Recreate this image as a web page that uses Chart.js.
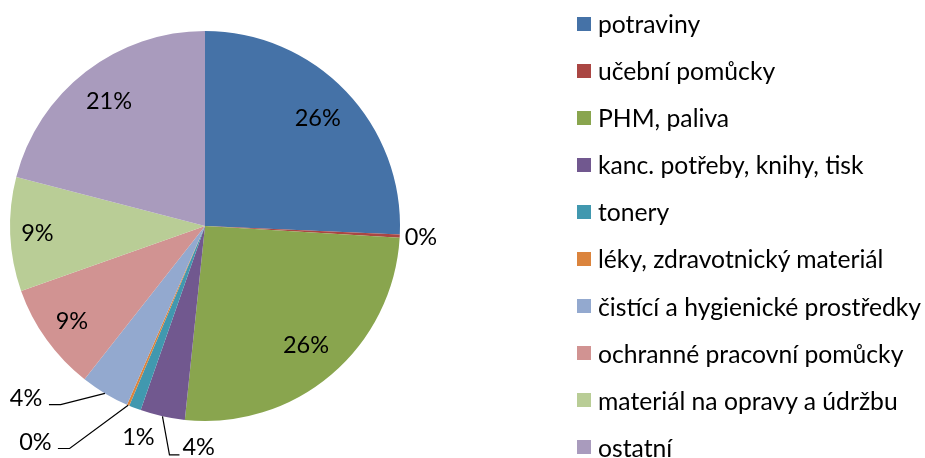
<!DOCTYPE html>
<html>
<head>
<meta charset="utf-8">
<script src="https://cdn.jsdelivr.net/npm/chart.js@4"></script>
<style>
    body { margin: 0; background: #fff; }
    #wrap { position: relative; width: 925px; height: 458px; }
    #pie { position: absolute; left: 0; top: 0; }
    #legend {
        position: absolute; left: 577px; top: 0px; margin: 0; padding: 0;
        list-style: none; font-family: Lato, sans-serif; font-size: 24.7px; color: #000;
    }
    #legend li { display: flex; align-items: center; height: 47.08px; white-space: nowrap; }
    #legend .box { width: 14px; height: 14px; margin-right: 7px; flex: none; }
</style>
</head>
<body>
<div id="wrap">
    <canvas id="pie" width="925" height="458"></canvas>
    <ul id="legend"></ul>
</div>
<script>
// --- Data (in % of total) ---
const categories = [
    'potraviny',
    'učební pomůcky',
    'PHM, paliva',
    'kanc. potřeby, knihy, tisk',
    'tonery',
    'léky, zdravotnický materiál',
    'čistící a hygienické prostředky',
    'ochranné pracovní pomůcky',
    'materiál na opravy a údržbu',
    'ostatní'
];
const shares = [25.7, 0.25, 25.7, 3.7, 1.0, 0.2, 4.05, 9.0, 9.45, 20.95];

// Excel 2007 style palette
const sliceColors = ['#4572A7', '#AA4643', '#89A54E', '#71588F', '#4198AF',
                     '#DB843D', '#93A9CF', '#D19392', '#B9CD96', '#A99BBD'];

// --- Label placement (inside: fraction of radius; otherwise offset from the slice's outer edge) ---
const labelSpots = [
    { inside: 0.80 },
    { dx: 5, dy: 1, align: 'left' },
    { inside: 0.80 },
    { dx: 20, dy: 31, align: 'left', leader: [[7, 38.5], [17, 38.5]] },
    { dx: 3.5, dy: 29.5, align: 'center' },
    { dx: -76.5, dy: 37.5, align: 'right', leader: [[-58.5, 43.3], [-70.2, 43.3]] },
    { dx: -62.7, dy: 5.3, align: 'right', leader: [[-44.3, 11.3], [-56, 11.3]] },
    { inside: 0.84 },
    { inside: 0.86 },
    { inside: 0.805 }
];

const pctLabels = {
    id: 'pctLabels',
    afterDatasetsDraw(chart) {
        const ctx = chart.ctx;
        const meta = chart.getDatasetMeta(0);
        const data = chart.data.datasets[0].data;
        const total = data.reduce((a, b) => a + b, 0);
        ctx.save();
        ctx.font = '23.5px Lato, sans-serif';
        ctx.fillStyle = '#000';
        ctx.strokeStyle = '#000';
        ctx.lineWidth = 1.2;
        ctx.textBaseline = 'middle';
        meta.data.forEach((arc, i) => {
            const { x, y, startAngle, endAngle, outerRadius } =
                arc.getProps(['x', 'y', 'startAngle', 'endAngle', 'outerRadius'], true);
            const mid = (startAngle + endAngle) / 2;
            const text = Math.round(data[i] / total * 100) + '%';
            const spot = labelSpots[i];
            if (spot.inside) {
                ctx.textAlign = 'center';
                ctx.fillText(text, x + Math.cos(mid) * outerRadius * spot.inside,
                                   y + Math.sin(mid) * outerRadius * spot.inside);
                return;
            }
            const ax = x + Math.cos(mid) * outerRadius;
            const ay = y + Math.sin(mid) * outerRadius;
            if (spot.leader) {
                ctx.beginPath();
                ctx.moveTo(ax, ay);
                spot.leader.forEach(p => ctx.lineTo(ax + p[0], ay + p[1]));
                ctx.stroke();
            }
            ctx.textAlign = spot.align;
            ctx.fillText(text, ax + spot.dx, ay + spot.dy);
        });
        ctx.restore();
    }
};

const chart = new Chart(document.getElementById('pie'), {
    type: 'pie',
    data: {
        labels: categories,
        datasets: [{
            data: shares,
            backgroundColor: sliceColors,
            borderWidth: 0
        }]
    },
    options: {
        responsive: false,
        animation: false,
        layout: { padding: { left: 10, right: 525, top: 31, bottom: 37 } },
        plugins: {
            legend: { display: false },
            tooltip: { enabled: false }
        }
    },
    plugins: [pctLabels]
});

// HTML legend built from the chart's own legend items
const legendList = document.getElementById('legend');
Chart.overrides.pie.plugins.legend.labels.generateLabels(chart).forEach(item => {
    const li = document.createElement('li');
    li.innerHTML = `<span class="box" style="background:${item.fillStyle}"></span><span>${item.text}</span>`;
    legendList.appendChild(li);
});
</script>
</body>
</html>
